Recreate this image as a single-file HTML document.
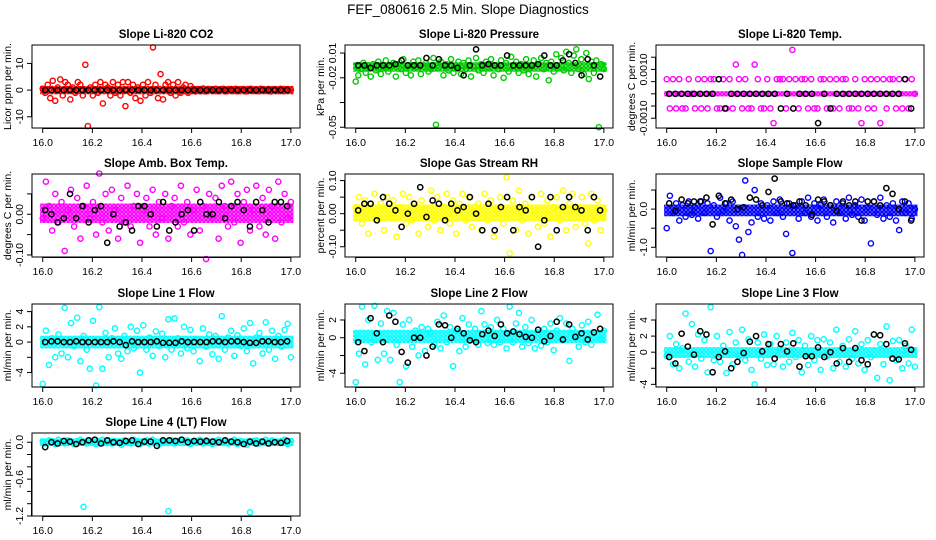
<!DOCTYPE html>
<html><head><meta charset="utf-8"><style>
html,body{margin:0;padding:0;background:#fff}
svg{display:block;font-family:"Liberation Sans",Arial,sans-serif}
</style></head><body>
<svg id="chart" width="936" height="540" viewBox="0 0 936 540">
<defs id="defs"></defs>
<text x="468" y="14" text-anchor="middle" font-size="13.5">FEF_080616  2.5 Min. Slope Diagnostics</text>
</svg>
<script>
const xTicks=[16.0,16.2,16.4,16.6,16.8,17.0];
const xTickLabels=["16.0","16.2","16.4","16.6","16.8","17.0"];
const co2Vals=[0.5,-1,2,-3,3.5,-4,1,4,-2,3,2,-3.5,1,-1,3,2,-2,9.5,-13.5,1,-2,2,-1,3,-5,2,1,-2,3,-1,2,-2,3,-6,3,-1,2,-3,1,-4,2,-2,3,-1,16,2,-3,6,-3.5,2,3,-1,2,-2,3,-1,1,2,-1,1.5,0.5,-0.5,0.3,-0.4,0.6,-0.5,0.4,0.2,-0.3,0.5,-0.4,0.3,0.5,-0.5,0.2,0.4,-0.3,0.5,-0.4,0.3,0.4,-0.5,0.3,0.5,-0.3,0.2,-0.4,0.5,0.3,-0.2,0.4,-0.5,0.3,0.2,-0.3,0.5,-0.4,0.3,0.2,0.1];
const co2Black=[0,0,0,0,0,0,0,0,0,0,0,0,0,0,0,0,0,0,0,0,0,0,0,0,0,0,0,0,0,0,0,0,0,0,0,0,0,0,0,0];
const presVals=[-0.013,-0.008,-0.003,0.002,-0.006,0,-0.009,0.001,-0.004,0.003,-0.007,-0.002,0.004,-0.005,-0.001,0.002,-0.009,0.001,-0.003,0.005,-0.006,0,-0.008,0.003,-0.002,0.004,-0.007,-0.001,0.002,-0.005,-0.003,0.006,-0.048,-0.002,0.003,-0.008,0.001,-0.004,0.005,-0.006,0,0.003,-0.007,0.002,-0.003,0.004,-0.009,-0.001,0.006,-0.004,0.001,-0.006,0.003,-0.002,0.005,-0.008,0,-0.003,0.004,-0.010,0.002,-0.005,0.007,-0.001,0.003,-0.006,0.001,-0.004,0.005,-0.007,-0.002,0.004,-0.009,0.001,0.006,-0.003,0.002,-0.012,0.003,-0.005,0.009,-0.002,0.006,-0.004,0.011,0.002,-0.006,0.008,0.013,-0.003,0.005,-0.007,0.010,-0.011,0.003,-0.006,0.004,-0.050,0.001,-0.003];
const presBlack=[0,0,-0.002,0,0,0,0.001,0.004,0,0,0,0.006,0,0.005,0,0,-0.002,-0.008,0,0.013,0,0.001,0,0,0.008,0,0,0,0,0.001,0.008,0,0,0.004,0.009,0.002,-0.008,0.005,0,-0.009];
const tempVals=[6e-4,-6e-4,6e-4,-6e-4,6e-4,-6e-4,-6e-4,6e-4,0,-6e-4,6e-4,-6e-4,6e-4,-6e-4,6e-4,6e-4,-6e-4,-6e-4,6e-4,-6e-4,6e-4,-6e-4,12e-4,6e-4,-6e-4,6e-4,-6e-4,-6e-4,12e-4,6e-4,-6e-4,-6e-4,6e-4,-6e-4,-12e-4,6e-4,6e-4,6e-4,-6e-4,6e-4,18e-4,6e-4,-6e-4,6e-4,6e-4,-6e-4,6e-4,-6e-4,-6e-4,6e-4,6e-4,-6e-4,6e-4,-6e-4,6e-4,-6e-4,6e-4,6e-4,-6e-4,-6e-4,6e-4,-6e-4,-12e-4,6e-4,-6e-4,6e-4,-6e-4,6e-4,-12e-4,6e-4,-6e-4,6e-4,6e-4,-6e-4,6e-4,-6e-4,6e-4,-6e-4,6e-4,0];
const tempBlack=[0,0,0,0,0,0,0,0,6e-4,-6e-4,0,0,0,0,0,0,0,0,-6e-4,0,-6e-4,0,0,0,-12e-4,0,-6e-4,0,0,0,0,0,0,0,0,0,0,0,6e-4,-6e-4];
const ambVals=[-0.01,0.08,0.02,-0.04,0.05,-0.02,0.03,-0.09,0.01,0.06,-0.03,0.04,-0.06,0.02,0.07,-0.01,0.03,-0.05,0.1,-0.02,0.05,-0.04,0.06,0.01,-0.06,0.04,-0.02,0.07,-0.03,0.02,0.05,-0.07,0.01,0.04,-0.03,0.06,-0.05,0.03,-0.01,0.05,-0.06,0.02,0.04,-0.03,0.07,-0.02,0.03,-0.05,0.01,0.06,-0.04,0.02,-0.11,0.05,-0.01,0.04,-0.06,0.07,0.02,-0.03,0.08,-0.02,0.05,-0.07,0.03,0.06,-0.04,0.01,0.07,-0.03,0.04,-0.05,0.06,0.02,-0.06,0.08,-0.02,0.05,-0.01,0.03];
const ambBlack=[0.01,0,-0.02,-0.01,0.05,-0.01,0.02,-0.02,0.01,0.02,-0.07,0,-0.03,-0.02,-0.04,0.02,0.02,0,-0.03,0.03,-0.04,-0.02,0,0.01,-0.04,0.03,0,0,0.03,-0.01,0.02,0.03,0.01,-0.03,0.03,0.01,-0.02,0.03,0.03,0.02];
const rhVals=[0.02,0.05,-0.03,0.04,-0.06,0.01,0.06,-0.02,0.03,-0.05,0.05,-0.01,0.04,-0.07,0.02,0.06,-0.03,0.05,-0.02,0.03,-0.06,0.04,0.01,-0.04,0.07,-0.02,0.05,-0.05,0.02,0.06,-0.03,0.04,-0.06,0.03,0.06,-0.02,0.05,-0.04,0.02,0.03,-0.05,0.06,-0.02,0.04,-0.07,0.01,0.05,-0.03,0.11,-0.12,0.04,-0.05,0.07,-0.02,0.03,-0.06,0.05,0.01,-0.04,0.06,-0.03,0.04,-0.07,0.02,0.05,-0.02,0.07,-0.05,0.03,0.06,-0.04,0.02,0.05,-0.03,-0.09,0.06,-0.02,0.04,-0.05,0.01];
const rhBlack=[0.01,0.03,0.03,-0.02,0.05,0.03,0.01,-0.04,0,0.03,0.08,-0.01,0.04,0.03,-0.02,0.03,0.01,0.02,0.05,0,-0.05,0.03,-0.05,0.02,0.05,-0.05,0.02,0.01,0.05,-0.1,-0.02,0.05,-0.05,0.02,0.05,0.02,0.01,-0.05,0.05,0.01];
const flowVals=[-0.5,0.35,-0.1,0.15,-0.3,0.1,-0.2,0.2,-0.15,0.05,-0.25,0.2,-0.1,0.15,-1.1,0.1,-0.2,0.3,-0.05,0.15,-0.3,0.2,-0.45,-0.8,-1.2,0.75,-0.6,-0.35,0.5,-0.2,0.15,-0.25,0.1,-0.3,0.2,-0.1,0.25,-0.2,-0.65,0.15,-1.15,0.1,-0.25,0.2,-0.1,0.3,-0.2,0.15,-0.3,0.1,0.25,-0.2,0.1,-0.35,0.2,-0.1,0.15,-0.25,0.3,-0.15,0.1,-0.2,0.25,-0.3,0.05,-0.9,0.2,-0.15,0.3,-0.25,0.1,-0.2,0.15,-0.3,-0.55,0.2,-0.1,0.15,-0.25,0];
const flowBlack=[0.15,-0.05,0.25,0.15,0.2,0.2,0.3,-0.4,0.35,0.15,0.25,0,0.05,0.3,0.25,0.1,0.45,0.8,0.2,0.15,0.1,0.2,0.1,-0.15,0.25,0.2,0.1,-0.05,0.2,0.1,0.2,-0.3,0.2,0.2,0.1,0.55,0.4,0,0.2,-0.3];
const line1Vals=[-5.5,1.5,-3,0.5,-2,1,-1.5,4.5,-2,2.5,-0.5,3.2,-2.5,0.8,-1,-3.5,2.8,-5.7,4.6,-3.5,1.2,-2,0.5,1.8,-1.5,-2.2,0.8,-1.2,2,-0.8,1.5,-4,2.2,-1,0.6,-1.8,1.4,-0.5,1.1,-2,3,-1,3.1,0.5,-1.5,2,-0.8,1.6,-1.2,0.4,-2.5,1.8,-0.6,1,-1.6,0.8,-2.2,3.4,-1,0.6,1.5,-1.8,0.9,-0.5,1.8,-1.2,2.5,-2.8,0.6,1.2,-1.5,2.6,-1,1.5,-2.2,0.8,-0.6,1.6,2.4,-2];
const line1Black=[0,0.1,0.1,0,0,0.1,0,0,0,0,0,0.1,0,-0.4,0.1,0,0,0,0.1,-0.1,-0.1,-0.1,0.1,0,0,0,0,0.1,0.1,0,0.1,0.1,0,-0.1,-0.1,0.1,0.1,0,0,0.1];
const line2Vals=[-5,-1.8,3.5,-3,2,-0.5,3.6,-2.5,1.6,-1.8,3,-2.5,2.8,-0.8,-5,1.5,-3.2,2,-1,0.8,-2,1.2,-1.5,1,0.6,-0.8,1.8,-1.2,2.5,-0.5,1.2,-3.2,0.8,-1.5,2.2,-1,1.5,-0.2,1,-0.8,3,1.5,-0.6,1.2,-0.8,2,-0.5,1,-1.2,3.5,-0.5,1.6,2.8,-1,1.2,-0.6,2,-1.2,0.6,-0.9,1,-0.5,1.6,-1.4,0.8,2.2,-0.3,1.6,-2.6,1,0.5,-1,1.4,-0.5,1.8,-0.8,0.6,2.6,-0.2,0.8];
const line2Black=[-0.5,-1.5,2.2,0.5,-0.5,2.5,1.8,-1.6,-2.8,0,0,-2,-1,1.5,1.4,0,1,0.5,-0.3,-0.5,0.4,0.8,0.2,1.5,0.5,0.7,0.4,0.1,0,0.9,-0.4,0.2,1.8,-0.2,1.5,0.1,0.5,-0.2,0.6,1];
const line3Vals=[-0.5,2,-1.5,1,-2,0.5,4.8,-1.2,3.5,-1.8,2.2,-0.8,1.5,-2.5,5.6,-1,2,-1.2,0.8,-2.6,2.5,-1.5,1.2,-0.5,2.8,-1,1.6,-2.2,-4,1.2,-0.8,2.2,-1.6,1,-1.5,2,0.5,-1.8,1.2,-1.2,2.4,-0.6,1.5,-2.5,0.8,-1.6,2,-1,1.5,-2.2,1.6,-0.5,1.2,-2,2.8,-1.2,0.8,-1.8,1.6,-0.8,2.6,-1.4,1,-2.2,1.5,-0.6,2.2,-3.2,1,-1.5,3.2,-3.5,1.4,-1,1.5,-2,0.8,-1.4,2.8,-1.8];
const line3Black=[-0.6,-1.4,2.3,0.7,-0.3,2.6,2.2,-2.5,-0.6,0.1,-2,-1.2,-0.1,1.3,2,0.1,1,-0.8,1,0.1,1.1,-1.8,-0.5,-0.5,0.6,-0.6,0,-1.4,0.5,-1.2,0.5,-1,-1.5,2.2,2.1,1,-0.8,-0.9,1.1,0.3];
const line4Vals=[0.01,-0.02,0.03,0.02,-0.03,0.04,0,-0.02,0.03,0.01,-0.03,0.02,0.04,-1.05,-0.02,0.03,0.01,-0.03,0.02,0.04,-0.01,0.03,-0.02,0.02,0.01,-0.04,0.03,0,-0.02,0.04,0.02,-0.03,0.01,0.03,-0.02,0.04,0,-0.03,0.02,0.01,-1.12,0.03,-0.02,0.02,0.04,-0.01,0.03,-0.03,0.01,0.02,0.04,-0.02,0.03,0,-0.03,0.02,0.04,-0.01,0.03,-0.02,0.01,0.04,-0.03,0.02,0,-0.04,-1.14,0.02,0.03,-0.02,0.01,0.04,-0.02,0.03,0,-0.01,0.02,0.04,-0.03,0.02];
const line4Black=[-0.08,0,-0.02,0.02,0.01,-0.03,0,0.03,0.04,-0.02,0.03,0,-0.01,0.02,0.03,-0.03,0.01,0.01,-0.06,0.03,0.03,0.02,0.04,0,0.02,0.01,0.02,0.01,0,0.03,0.01,0,-0.03,0.01,-0.02,0.01,-0.02,0,-0.01,0.02];
const bandCo2=[-0.6,0.6],bandPres=[-0.003,0.0005],bandTemp=[0,0],bandAmb=[-0.015,0.02],bandRh=[-0.015,0.02],bandFlow=[-0.12,0.05],bandL1=[-0.5,0.5],bandL2=[-0.3,0.6],bandL3=[-0.4,0.3],bandL4=[-0.02,0.02];

const panels=[
 {name:"co2",title:"Slope Li-820 CO2",ylab:"Licor ppm per min.",col:0,row:0,color:"#ff0000",vals:co2Vals,black:co2Black,band:bandCo2,ymin:-14.2,ymax:16.9,ticks:[-10,0,10],labels:["-10","0","10"]},
 {name:"pressure",title:"Slope Li-820 Pressure",ylab:"kPa per min.",col:1,row:0,color:"#00cd00",vals:presVals,black:presBlack,band:bandPres,ymin:-0.0506,ymax:0.0165,ticks:[0.01,-0.01,-0.03,-0.05],labels:["0.01","-0.02","","-0.05"]},
 {name:"li820-temp",title:"Slope Li-820 Temp.",ylab:"degrees C per min.",col:2,row:0,color:"#ff00ff",vals:tempVals,black:tempBlack,band:bandTemp,ymin:-0.0014,ymax:0.002,ticks:[-0.001,-0.0005,0,0.0005,0.001,0.0015],labels:["-0.0010","","","","0.0010",""]},
 {name:"amb-box-temp",title:"Slope Amb. Box Temp.",ylab:"degrees C per min.",col:0,row:1,color:"#ff00ff",vals:ambVals,black:ambBlack,band:bandAmb,ymin:-0.105,ymax:0.0988,ticks:[-0.1,-0.05,0,0.05],labels:["-0.10","","0.00",""]},
 {name:"gas-rh",title:"Slope Gas Stream RH",ylab:"percent per min.",col:1,row:1,color:"#ffff00",vals:rhVals,black:rhBlack,band:bandRh,ymin:-0.131,ymax:0.12,ticks:[-0.1,-0.05,0,0.05,0.1],labels:["-0.10","","0.00","","0.10"]},
 {name:"sample-flow",title:"Slope Sample Flow",ylab:"ml/min per min.",col:2,row:1,color:"#0000ff",vals:flowVals,black:flowBlack,band:bandFlow,ymin:-1.255,ymax:0.92,ticks:[-1,-0.5,0,0.5],labels:["-1.0","","0.0",""]},
 {name:"line1-flow",title:"Slope Line 1 Flow",ylab:"ml/min per min.",col:0,row:2,color:"#00ffff",vals:line1Vals,black:line1Black,band:bandL1,ymin:-5.9,ymax:5.0,ticks:[-4,-2,0,2,4],labels:["-4","","0","2","4"]},
 {name:"line2-flow",title:"Slope Line 2 Flow",ylab:"ml/min per min.",col:1,row:2,color:"#00ffff",vals:line2Vals,black:line2Black,band:bandL2,ymin:-5.55,ymax:3.8,ticks:[-4,-2,0,2],labels:["-4","","0","2"]},
 {name:"line3-flow",title:"Slope Line 3 Flow",ylab:"ml/min per min.",col:2,row:2,color:"#00ffff",vals:line3Vals,black:line3Black,band:bandL3,ymin:-4.33,ymax:5.99,ticks:[-4,-2,0,2,4],labels:["-4","","0","2","4"]},
 {name:"line4-flow",title:"Slope Line 4 (LT) Flow",ylab:"ml/min per min.",col:0,row:3,color:"#00ffff",vals:line4Vals,black:line4Black,band:bandL4,ymin:-1.2,ymax:0.15,ticks:[0,-0.2,-0.4,-0.6,-0.8,-1.0,-1.2],labels:["0.0","","","-0.6","","","-1.2"]}
];
const NS="http://www.w3.org/2000/svg";
const svg=document.getElementById('chart');
const defs=document.getElementById('defs');
function mk(tag,attrs,parent){const e=document.createElementNS(NS,tag);for(const k in attrs)e.setAttribute(k,attrs[k]);(parent||svg).appendChild(e);return e;}
const colLeft=[32,345,656],rowTop=[45,174,304,433],W=268,H=83;
panels.forEach((p,pi)=>{
  const L=colLeft[p.col],T=rowTop[p.row];
  const g=mk('g',{});
  
  
  const xs=v=>L+W*(0.04+(v-16)/1.08);
  const ys=v=>T+H*(p.ymax-v)/(p.ymax-p.ymin);
  const t=mk('text',{x:L+W/2,y:T-7,'text-anchor':'middle','font-size':'11.5','font-weight':'bold'},g);t.textContent=p.title;
  
  
  const yl=mk('text',{transform:`translate(${L-21},${T+H/2}) rotate(-90)`,'text-anchor':'middle','font-size':'10.5'},g);yl.textContent=p.ylab;
  
  
  // textured pattern for dense point cloud
  const pat=mk('pattern',{id:'pat'+pi,width:4,height:4,patternUnits:'userSpaceOnUse'},defs);
  mk('rect',{x:0,y:0,width:4,height:4,fill:p.color,'fill-opacity':0.55},pat);
  mk('circle',{cx:2,cy:2,r:1.6,fill:'none',stroke:p.color,'stroke-width':1.2},pat);
  const by1=ys(p.band[1])-2.6,by2=ys(p.band[0])+2.6;
  const band=mk('rect',{x:xs(16.0)-2.6,y:by1,width:xs(17.0)-xs(16.0)+5.2,height:by2-by1,fill:'url(#pat'+pi+')'},g);
  
  
  const n=p.vals.length;
  p.vals.forEach((v,i)=>{
    const c=mk('circle',{cx:xs(16+i/(n-1)),cy:ys(v),r:2.6,fill:'none',stroke:p.color,'stroke-width':1.4},g);
    
    
  });
  const m=p.black.length;
  p.black.forEach((v,i)=>{
    const c=mk('circle',{cx:xs(16+(i+0.4)/m),cy:ys(v),r:2.6,fill:'none',stroke:'#000','stroke-width':1.5},g);
    
    
  });
  const box=mk('rect',{x:L,y:T,width:W,height:H,fill:'none',stroke:'#000','stroke-width':1},g);
  
  
  mk('line',{x1:xs(16),x2:xs(17),y1:T+H+0.5,y2:T+H+0.5,stroke:'#000'},g);
  xTicks.forEach((v,i)=>{
    mk('line',{x1:xs(v),x2:xs(v),y1:T+H,y2:T+H+5,stroke:'#000'},g);
    const tl=mk('text',{x:xs(v),y:T+H+18,'text-anchor':'middle','font-size':'10.5'},g);tl.textContent=xTickLabels[i];
    
    
  });
  const tmin=Math.min(...p.ticks),tmax=Math.max(...p.ticks);
  mk('line',{x1:L-0.5,x2:L-0.5,y1:ys(tmax),y2:ys(tmin),stroke:'#000'},g);
  p.ticks.forEach((v,i)=>{
    mk('line',{x1:L-5,x2:L,y1:ys(v),y2:ys(v),stroke:'#000'},g);
    if(p.labels[i]){
      const tl=mk('text',{transform:`translate(${L-9},${ys(v)}) rotate(-90)`,'text-anchor':'middle','font-size':'10.5'},g);tl.textContent=p.labels[i];
      
      
    }
  });
});
</script>
</body></html>
